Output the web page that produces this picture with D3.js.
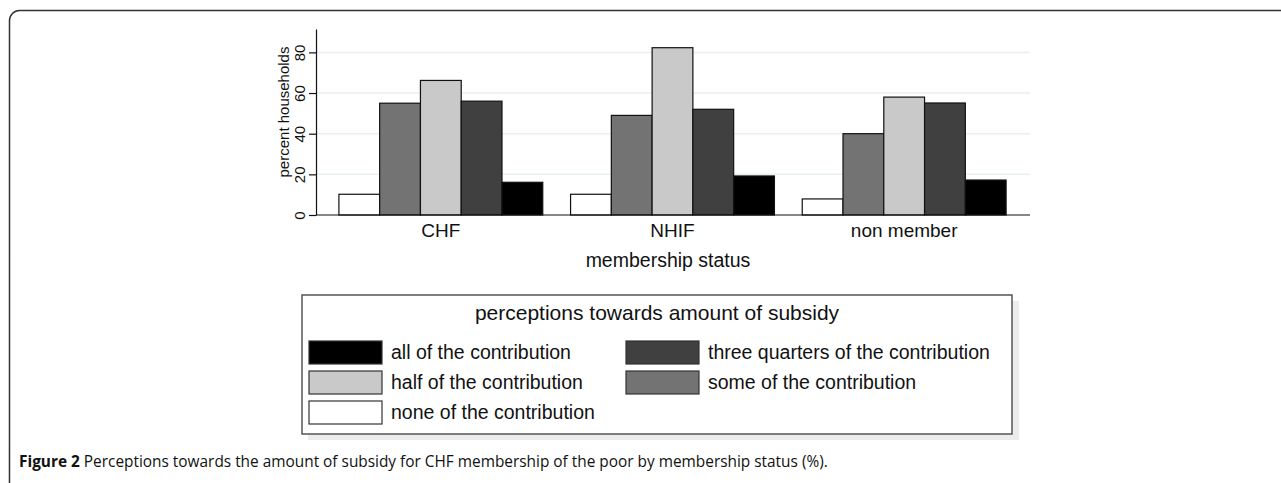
<!DOCTYPE html>
<html>
<head>
<meta charset="utf-8">
<script src="https://cdn.jsdelivr.net/npm/d3@7"></script>
<style>
  body { margin: 0; background: #fff; }
  svg { display: block; }
  .chart text { font-family: "Liberation Sans", Arial, sans-serif; fill: #111; }
  .caption { font-family: "Open Sans", sans-serif; font-size: 15.4px; fill: #111; }
</style>
</head>
<body>
<svg id="fig" width="1281" height="483"></svg>
<script>
// membership groups
const groups = ["CHF", "NHIF", "non member"];
// perception categories, in bar order
const categories = [
    "none of the contribution",
    "some of the contribution",
    "half of the contribution",
    "three quarters of the contribution",
    "all of the contribution"
];
// percent households, one array per perception category
const noneValues = [10.2, 10.2, 7.9];
const someValues = [55, 49, 40];
const halfValues = [66.2, 82.3, 58];
const threeQuarterValues = [56, 52, 55.1];
const allValues = [16.1, 19.2, 17.2];
const yTicks = [0, 20, 40, 60, 80];
// legend order as in the key (two columns)
const legendOrder = [
    "all of the contribution", "three quarters of the contribution",
    "half of the contribution", "some of the contribution",
    "none of the contribution"
];

const seriesValues = [noneValues, someValues, halfValues, threeQuarterValues, allValues];
const fills = d3.scaleOrdinal()
    .domain(categories)
    .range(["#ffffff", "#737373", "#c9c9c9", "#404040", "#000000"]);

const rows = [];
groups.forEach((g, gi) => {
    categories.forEach((c, ci) => {
        rows.push({ group: g, cat: c, value: seriesValues[ci][gi] });
    });
});

const svg = d3.select("#fig");

// outer rounded frame, runs off the right and bottom edges
svg.append("rect")
    .attr("x", 9.5).attr("y", 10.5)
    .attr("width", 1320).attr("height", 520)
    .attr("rx", 10).attr("ry", 10)
    .attr("fill", "none")
    .attr("stroke", "#333")
    .attr("stroke-width", 1.5);

const chart = svg.append("g").attr("class", "chart");

const plotLeft = 316, plotRight = 1030;
const y = d3.scaleLinear().domain([0, 91.5]).range([215, 29]);
const x0 = d3.scaleBand().domain(groups).range([325, 1020])
    .paddingInner(0.12).paddingOuter(0.06);
const x1 = d3.scaleBand().domain(categories).range([0, x0.bandwidth()]);

/* light grid lines */
chart.append("g")
    .selectAll("line")
    .data(yTicks.filter(d => d > 0))
    .enter()
    .append("line")
    .attr("x1", plotLeft).attr("x2", plotRight)
    .attr("y1", d => y(d)).attr("y2", d => y(d))
    .attr("stroke", "#e8f0f1")
    .attr("stroke-width", 1.5);

// bars
chart.append("g")
    .selectAll("rect")
    .data(rows)
    .enter()
    .append("rect")
    .attr("x", d => x0(d.group) + x1(d.cat))
    .attr("y", d => y(d.value))
    .attr("width", x1.bandwidth())
    .attr("height", d => y(0) - y(d.value))
    .attr("fill", d => fills(d.cat))
    .attr("stroke", "#111")
    .attr("stroke-width", 1.2);

// y axis
const yAxis = chart.append("g")
    .attr("transform", `translate(${plotLeft},0)`)
    .call(d3.axisLeft(y).tickValues(yTicks).tickSize(7).tickSizeOuter(0));
yAxis.select(".domain").attr("stroke", "#111").attr("stroke-width", 1.2);
yAxis.selectAll(".tick line").attr("stroke", "#111").attr("stroke-width", 1.2);
yAxis.selectAll(".tick text")
    .attr("font-size", 15)
    .attr("font-family", "Liberation Sans, Arial, sans-serif")
    .attr("fill", "#111")
    .attr("text-anchor", "middle")
    .attr("x", 0).attr("dy", 0)
    .attr("transform", "translate(-11,0) rotate(-90)");

// x axis
const xAxis = chart.append("g")
    .attr("transform", `translate(0,${y(0)})`)
    .call(d3.axisBottom(x0).tickSize(0).tickSizeOuter(0));
xAxis.select(".domain").attr("d", `M${plotLeft},0H${plotRight}`)
    .attr("stroke", "#111").attr("stroke-width", 1.2);
xAxis.selectAll(".tick text")
    .attr("font-size", 19)
    .attr("font-family", "Liberation Sans, Arial, sans-serif")
    .attr("fill", "#111")
    .attr("y", 9).attr("dy", "0.71em");

chart.append("text")
    .attr("x", 668).attr("y", 267)
    .attr("text-anchor", "middle")
    .attr("font-size", 19.5)
    .text("membership status");

chart.append("text")
    .attr("transform", "translate(289,112) rotate(-90)")
    .attr("text-anchor", "middle")
    .attr("font-size", 15)
    .text("percent households");

// legend box with soft shadow
const legend = chart.append("g");
legend.append("rect")
    .attr("x", 308).attr("y", 301)
    .attr("width", 711).attr("height", 139)
    .attr("fill", "#ececec");
legend.append("rect")
    .attr("x", 302).attr("y", 295)
    .attr("width", 710).attr("height", 139)
    .attr("fill", "#fff")
    .attr("stroke", "#555")
    .attr("stroke-width", 1.5);
legend.append("text")
    .attr("x", 657).attr("y", 320)
    .attr("text-anchor", "middle")
    .attr("font-size", 21)
    .text("perceptions towards amount of subsidy");

const items = legend.selectAll("g.item")
    .data(legendOrder)
    .enter()
    .append("g")
    .attr("class", "item")
    .attr("transform", (d, i) => `translate(${i % 2 === 0 ? 309 : 626},${341 + Math.floor(i / 2) * 30})`);
items.append("rect")
    .attr("width", 73).attr("height", 23)
    .attr("fill", d => fills(d))
    .attr("stroke", "#333")
    .attr("stroke-width", 1.2);
items.append("text")
    .attr("x", 82).attr("y", 18)
    .attr("font-size", 19.5)
    .text(d => d);

// figure caption
const cap = svg.append("text").attr("class", "caption").attr("x", 19).attr("y", 467);
cap.append("tspan").attr("font-weight", "bold").text("Figure 2");
cap.append("tspan").text(" Perceptions towards the amount of subsidy for CHF membership of the poor by membership status (%).");
</script>
</body>
</html>
